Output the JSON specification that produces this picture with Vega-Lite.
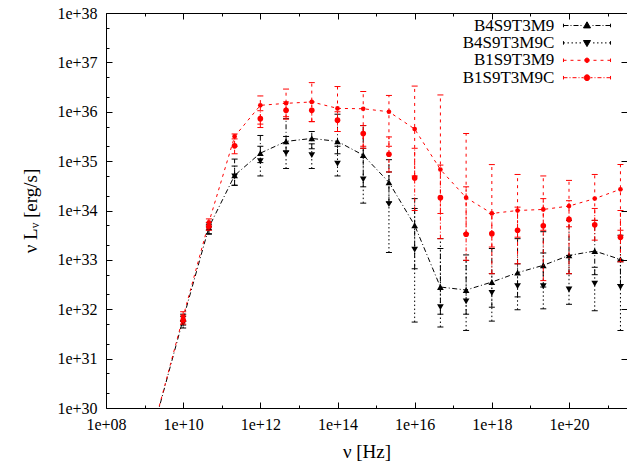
{
  "$schema": "https://vega.github.io/schema/vega-lite/v6.json",
  "width": 521,
  "height": 395,
  "autosize": "none",
  "padding": {"left": 106, "top": 13, "right": 0, "bottom": 53},
  "background": "white",
  "config": {"view": {"stroke": null}, "font": "Liberation Serif"},
  "datasets": {
    "sed": [
      {"s": "B4S9T3M9", "x": 2.154e9, "y": 7.59e29, "lo": 6.31e29, "hi": 8.91e29},
      {"s": "B4S9T3M9", "x": 1e10, "y": 6.31e31, "lo": 4.79e31, "hi": 7.94e31},
      {"s": "B4S9T3M9", "x": 4.642e10, "y": 4.57e33, "lo": 3.39e33, "hi": 5.62e33},
      {"s": "B4S9T3M9", "x": 2.154e11, "y": 5.13e34, "lo": 3.24e34, "hi": 1.10e35},
      {"s": "B4S9T3M9", "x": 1e12, "y": 1.45e35, "lo": 9.33e34, "hi": 3.31e35},
      {"s": "B4S9T3M9", "x": 4.642e12, "y": 2.51e35, "lo": 1.58e35, "hi": 7.24e35},
      {"s": "B4S9T3M9", "x": 2.154e13, "y": 2.88e35, "lo": 1.78e35, "hi": 3.98e35},
      {"s": "B4S9T3M9", "x": 1e14, "y": 2.51e35, "lo": 1.41e35, "hi": 8.91e35},
      {"s": "B4S9T3M9", "x": 4.642e14, "y": 1.32e35, "lo": 3.02e34, "hi": 5.25e35},
      {"s": "B4S9T3M9", "x": 2.154e15, "y": 3.72e34, "lo": 1.48e34, "hi": 1.07e35},
      {"s": "B4S9T3M9", "x": 1e16, "y": 5.01e33, "lo": 6.61e32, "hi": 1.74e34},
      {"s": "B4S9T3M9", "x": 4.642e16, "y": 2.82e32, "lo": 7.94e31, "hi": 1.70e33},
      {"s": "B4S9T3M9", "x": 2.154e17, "y": 2.45e32, "lo": 7.94e31, "hi": 9.77e32},
      {"s": "B4S9T3M9", "x": 1e18, "y": 3.55e32, "lo": 1.10e32, "hi": 1.70e33},
      {"s": "B4S9T3M9", "x": 4.642e18, "y": 5.50e32, "lo": 1.78e32, "hi": 2.69e33},
      {"s": "B4S9T3M9", "x": 2.154e19, "y": 7.76e32, "lo": 2.82e32, "hi": 3.72e33},
      {"s": "B4S9T3M9", "x": 1e20, "y": 1.23e33, "lo": 5.25e32, "hi": 6.31e33},
      {"s": "B4S9T3M9", "x": 4.642e20, "y": 1.51e33, "lo": 5.01e32, "hi": 6.31e33},
      {"s": "B4S9T3M9", "x": 2.154e21, "y": 1.02e33, "lo": 3.16e32, "hi": 3.16e33},

      {"s": "B4S9T3M9C", "x": 2.154e9, "y": 7.08e29, "lo": 5.62e29, "hi": 8.91e29},
      {"s": "B4S9T3M9C", "x": 1e10, "y": 5.25e31, "lo": 4.17e31, "hi": 7.08e31},
      {"s": "B4S9T3M9C", "x": 4.642e10, "y": 4.27e33, "lo": 3.31e33, "hi": 5.25e33},
      {"s": "B4S9T3M9C", "x": 2.154e11, "y": 4.90e34, "lo": 3.24e34, "hi": 7.94e34},
      {"s": "B4S9T3M9C", "x": 1e12, "y": 1.0e35, "lo": 5.01e34, "hi": 2.0e35},
      {"s": "B4S9T3M9C", "x": 4.642e12, "y": 1.45e35, "lo": 7.08e34, "hi": 3.16e35},
      {"s": "B4S9T3M9C", "x": 2.154e13, "y": 1.32e35, "lo": 7.08e34, "hi": 2.24e35},
      {"s": "B4S9T3M9C", "x": 1e14, "y": 8.91e34, "lo": 5.01e34, "hi": 2.0e35},
      {"s": "B4S9T3M9C", "x": 4.642e14, "y": 4.27e34, "lo": 1.41e34, "hi": 1.82e35},
      {"s": "B4S9T3M9C", "x": 2.154e15, "y": 1.35e34, "lo": 1.41e33, "hi": 6.03e34},
      {"s": "B4S9T3M9C", "x": 1e16, "y": 1.62e33, "lo": 5.50e31, "hi": 1.10e34},
      {"s": "B4S9T3M9C", "x": 4.642e16, "y": 1.10e32, "lo": 4.37e31, "hi": 2.69e33},
      {"s": "B4S9T3M9C", "x": 2.154e17, "y": 1.45e32, "lo": 3.72e31, "hi": 1.26e33},
      {"s": "B4S9T3M9C", "x": 1e18, "y": 2.14e32, "lo": 5.75e31, "hi": 5.25e32},
      {"s": "B4S9T3M9C", "x": 4.642e18, "y": 2.95e32, "lo": 9.77e31, "hi": 8.32e32},
      {"s": "B4S9T3M9C", "x": 2.154e19, "y": 2.95e32, "lo": 1.02e32, "hi": 1.38e33},
      {"s": "B4S9T3M9C", "x": 1e20, "y": 2.51e32, "lo": 1.26e32, "hi": 1.23e33},
      {"s": "B4S9T3M9C", "x": 4.642e20, "y": 3.31e32, "lo": 9.33e31, "hi": 7.08e32},
      {"s": "B4S9T3M9C", "x": 2.154e21, "y": 2.82e32, "lo": 3.72e31, "hi": 1.0e33},

      {"s": "B1S9T3M9", "x": 2.154e9, "y": 7.94e29, "lo": 6.31e29, "hi": 9.5e29},
      {"s": "B1S9T3M9", "x": 1e10, "y": 7.08e31, "lo": 5.62e31, "hi": 8.91e31},
      {"s": "B1S9T3M9", "x": 4.642e10, "y": 5.75e33, "lo": 4.57e33, "hi": 6.76e33},
      {"s": "B1S9T3M9", "x": 2.154e11, "y": 3.16e35, "lo": 2.0e35, "hi": 3.55e35},
      {"s": "B1S9T3M9", "x": 1e12, "y": 1.35e36, "lo": 5.62e35, "hi": 2.09e36},
      {"s": "B1S9T3M9", "x": 4.642e12, "y": 1.48e36, "lo": 7.94e35, "hi": 2.88e36},
      {"s": "B1S9T3M9", "x": 2.154e13, "y": 1.58e36, "lo": 6.31e35, "hi": 3.89e36},
      {"s": "B1S9T3M9", "x": 1e14, "y": 1.17e36, "lo": 3.98e35, "hi": 3.24e36},
      {"s": "B1S9T3M9", "x": 4.642e14, "y": 1.15e36, "lo": 2.0e35, "hi": 2.57e36},
      {"s": "B1S9T3M9", "x": 2.154e15, "y": 1.0e36, "lo": 2.0e35, "hi": 2.14e36},
      {"s": "B1S9T3M9", "x": 1e16, "y": 4.47e35, "lo": 5.01e34, "hi": 3.31e36},
      {"s": "B1S9T3M9", "x": 4.642e16, "y": 6.76e34, "lo": 8.71e33, "hi": 2.19e36},
      {"s": "B1S9T3M9", "x": 2.154e17, "y": 1.82e34, "lo": 3.39e33, "hi": 3.63e35},
      {"s": "B1S9T3M9", "x": 1e18, "y": 8.71e33, "lo": 1.82e33, "hi": 8.51e34},
      {"s": "B1S9T3M9", "x": 4.642e18, "y": 1.0e34, "lo": 2.88e33, "hi": 5.37e34},
      {"s": "B1S9T3M9", "x": 2.154e19, "y": 1.05e34, "lo": 3.98e33, "hi": 5.01e34},
      {"s": "B1S9T3M9", "x": 1e20, "y": 1.23e34, "lo": 4.68e33, "hi": 4.07e34},
      {"s": "B1S9T3M9", "x": 4.642e20, "y": 1.74e34, "lo": 6.31e33, "hi": 5.37e34},
      {"s": "B1S9T3M9", "x": 2.154e21, "y": 2.69e34, "lo": 3.98e33, "hi": 8.51e34},

      {"s": "B1S9T3M9C", "x": 2.154e9, "y": 7.59e29, "lo": 6.31e29, "hi": 8.91e29},
      {"s": "B1S9T3M9C", "x": 1e10, "y": 6.03e31, "lo": 5.01e31, "hi": 7.59e31},
      {"s": "B1S9T3M9C", "x": 4.642e10, "y": 4.79e33, "lo": 3.98e33, "hi": 5.75e33},
      {"s": "B1S9T3M9C", "x": 2.154e11, "y": 2.04e35, "lo": 1.41e35, "hi": 2.82e35},
      {"s": "B1S9T3M9C", "x": 1e12, "y": 7.24e35, "lo": 4.79e35, "hi": 1.05e36},
      {"s": "B1S9T3M9C", "x": 4.642e12, "y": 1.07e36, "lo": 7.08e35, "hi": 1.58e36},
      {"s": "B1S9T3M9C", "x": 2.154e13, "y": 1.07e36, "lo": 6.31e35, "hi": 1.58e36},
      {"s": "B1S9T3M9C", "x": 1e14, "y": 6.76e35, "lo": 3.98e35, "hi": 1.0e36},
      {"s": "B1S9T3M9C", "x": 4.642e14, "y": 3.63e35, "lo": 1.82e35, "hi": 5.25e35},
      {"s": "B1S9T3M9C", "x": 2.154e15, "y": 1.38e35, "lo": 6.03e34, "hi": 3.09e35},
      {"s": "B1S9T3M9C", "x": 1e16, "y": 4.57e34, "lo": 1.0e34, "hi": 1.82e35},
      {"s": "B1S9T3M9C", "x": 4.642e16, "y": 1.82e34, "lo": 2.69e33, "hi": 8.32e34},
      {"s": "B1S9T3M9C", "x": 2.154e17, "y": 3.31e33, "lo": 9.77e32, "hi": 3.02e34},
      {"s": "B1S9T3M9C", "x": 1e18, "y": 3.39e33, "lo": 5.25e32, "hi": 8.71e33},
      {"s": "B1S9T3M9C", "x": 4.642e18, "y": 3.98e33, "lo": 8.32e32, "hi": 1.17e34},
      {"s": "B1S9T3M9C", "x": 2.154e19, "y": 4.90e33, "lo": 3.80e32, "hi": 1.74e34},
      {"s": "B1S9T3M9C", "x": 1e20, "y": 6.61e33, "lo": 5.25e32, "hi": 1.58e34},
      {"s": "B1S9T3M9C", "x": 4.642e20, "y": 5.13e33, "lo": 2.51e33, "hi": 1.10e34},
      {"s": "B1S9T3M9C", "x": 2.154e21, "y": 2.88e33, "lo": 9.12e32, "hi": 1.0e34}
    ]
  },
  "data": {"name": "sed"},
  "encoding": {
    "x": {"field": "x", "type": "quantitative", "scale": {"type": "log", "domain": [1e8, 3.185e21], "nice": false, "zero": false}, "axis": null},
    "y": {"field": "y", "type": "quantitative", "scale": {"type": "log", "domain": [1e30, 1e38], "nice": false, "zero": false}, "axis": null}
  },
  "resolve": {"axis": {"x": "independent", "y": "independent"}},
  "layer": [
    {
      "transform": [{"filter": "false"}],
      "mark": {"type": "point", "filled": true, "opacity": 1, "size": 256, "strokeWidth": 1},
      "encoding": {
        "x": {
          "field": "x", "type": "quantitative",
          "scale": {"type": "log", "domain": [1e8, 3.185e21], "nice": false, "zero": false},
          "axis": {
            "orient": "bottom", "grid": false,
            "values": [1e8, 1e9, 1e10, 1e11, 1e12, 1e13, 1e14, 1e15, 1e16, 1e17, 1e18, 1e19, 1e20, 1e21],
            "labelExpr": "round(log(datum.value)/LN10) % 2 == 0 ? '1e+' + format(round(log(datum.value)/LN10), '02d') : ''",
            "tickSize": {"condition": {"test": "round(log(datum.value)/LN10) % 2 == 0", "value": -6}, "value": -3},
            "tickColor": "black", "tickWidth": 1,
            "domainColor": "black", "domainWidth": 1,
            "labelFont": "Liberation Serif", "labelFontSize": 16, "labelColor": "black",
            "labelPadding": 14, "labelFlush": false, "labelOverlap": false, "labelAngle": 0,
            "title": "ν [Hz]", "titleFont": "Liberation Serif", "titleFontSize": 19, "titleFontWeight": "normal", "titleColor": "black", "titlePadding": 7
          }
        },
        "y": {
          "field": "y", "type": "quantitative",
          "scale": {"type": "log", "domain": [1e30, 1e38], "nice": false, "zero": false},
          "axis": {
            "orient": "left", "grid": false,
            "values": [1e30, 2e30, 5e30, 1e31, 2e31, 5e31, 1e32, 2e32, 5e32, 1e33, 2e33, 5e33, 1e34, 2e34, 5e34, 1e35, 2e35, 5e35, 1e36, 2e36, 5e36, 1e37, 2e37, 5e37, 1e38],
            "labelExpr": "abs(log(datum.value)/LN10 - round(log(datum.value)/LN10)) < 0.01 ? '1e+' + format(round(log(datum.value)/LN10), 'd') : ''",
            "tickSize": {"condition": {"test": "abs(log(datum.value)/LN10 - round(log(datum.value)/LN10)) < 0.01", "value": -6}, "value": -3},
            "tickColor": "black", "tickWidth": 1,
            "domainColor": "black", "domainWidth": 1,
            "labelFont": "Liberation Serif", "labelFontSize": 16, "labelColor": "black",
            "labelPadding": 15, "labelFlush": false, "labelOverlap": false,
            "title": "ν Lᵥ [erg/s]", "titleFont": "Liberation Serif", "titleFontSize": 19, "titleFontWeight": "normal", "titleColor": "black", "titlePadding": 16
          }
        },
        "shape": {
          "field": "s", "type": "nominal",
          "scale": {
            "domain": ["B4S9T3M9", "B4S9T3M9C", "B1S9T3M9", "B1S9T3M9C"],
            "range": [
              "M-2.94,-0.22V0.22M2.94,-0.22V0.22M-2.94,0H-2.31M-2.06,0H-1.94M-1.69,0H-1.06M-0.81,0H-0.69M0.69,0H0.81M1.06,0H1.69M1.94,0H2.06M2.31,0H2.94M0,-0.46L0.44,0.3L-0.44,0.3Z",
              "M-2.94,-0.22V0.22M2.94,-0.22V0.22M-2.94,0H-2.75M-2.44,0H-2.25M-1.94,0H-1.75M-1.44,0H-1.25M-0.94,0H-0.75M0.75,0H0.94M1.25,0H1.44M1.75,0H1.94M2.25,0H2.44M2.75,0H2.94M0,0.46L0.44,-0.3L-0.44,-0.3Z",
              "M-2.94,-0.22V0.22M2.94,-0.22V0.22M-2.94,0H-2.56M-2.06,0H-1.69M-1.19,0H-0.81M0.81,0H1.19M1.69,0H2.06M2.56,0H2.94M-0.28,0A0.28,0.28,0,1,0,0.28,0A0.28,0.28,0,1,0,-0.28,0Z",
              "M-2.94,-0.22V0.22M2.94,-0.22V0.22M-2.94,0H-2.44M-2.19,0H-2.06M-1.81,0H-1.31M-1.06,0H-0.94M-0.69,0H-0.44M0.44,0H0.69M0.94,0H1.06M1.31,0H1.81M2.06,0H2.19M2.44,0H2.94M-0.36,0A0.36,0.36,0,1,0,0.36,0A0.36,0.36,0,1,0,-0.36,0Z"
            ]
          },
          "legend": {"orient": "none", "legendX": 472.5, "legendY": 4, "title": null, "labelAlign": "right", "labelOffset": -41.2, "labelFont": "Liberation Serif", "labelFontSize": 17, "labelColor": "black", "symbolSize": 256, "symbolStrokeWidth": 1, "rowPadding": -0.6, "padding": 0, "symbolOpacity": 1}
        },
        "color": {
          "field": "s", "type": "nominal",
          "scale": {"domain": ["B4S9T3M9", "B4S9T3M9C", "B1S9T3M9", "B1S9T3M9C"], "range": ["#000000", "#000000", "#ff0000", "#ff0000"]},
          "legend": {"orient": "none", "legendX": 472.5, "legendY": 4, "title": null, "labelAlign": "right", "labelOffset": -41.2, "labelFont": "Liberation Serif", "labelFontSize": 17, "labelColor": "black", "symbolSize": 256, "symbolStrokeWidth": 1, "rowPadding": -0.6, "padding": 0, "symbolOpacity": 1}
        },
        "stroke": {
          "field": "s", "type": "nominal",
          "scale": {"domain": ["B4S9T3M9", "B4S9T3M9C", "B1S9T3M9", "B1S9T3M9C"], "range": ["#000000", "#000000", "#ff0000", "#ff0000"]},
          "legend": {"orient": "none", "legendX": 472.5, "legendY": 4, "title": null, "labelAlign": "right", "labelOffset": -41.2, "labelFont": "Liberation Serif", "labelFontSize": 17, "labelColor": "black", "symbolSize": 256, "symbolStrokeWidth": 1, "rowPadding": -0.6, "padding": 0, "symbolOpacity": 1}
        }
      }
    },
    {
      "transform": [{"filter": "false"}],
      "mark": {"type": "point", "opacity": 0},
      "encoding": {
        "x": {
          "field": "x", "type": "quantitative",
          "scale": {"type": "log", "domain": [1e8, 3.185e21], "nice": false, "zero": false},
          "axis": {
            "orient": "top", "grid": false, "labels": false, "title": null,
            "values": [1e8, 1e9, 1e10, 1e11, 1e12, 1e13, 1e14, 1e15, 1e16, 1e17, 1e18, 1e19, 1e20, 1e21],
            "tickSize": {"condition": {"test": "round(log(datum.value)/LN10) % 2 == 0", "value": -6}, "value": -3},
            "tickColor": "black", "tickWidth": 1, "domainColor": "black", "domainWidth": 1
          }
        },
        "y": {
          "field": "y", "type": "quantitative",
          "scale": {"type": "log", "domain": [1e30, 1e38], "nice": false, "zero": false},
          "axis": {
            "orient": "right", "grid": false, "labels": false, "title": null, "domain": false,
            "values": [1e30, 1e31, 1e32, 1e33, 1e34, 1e35, 1e36, 1e37, 1e38],
            "tickSize": -6, "tickColor": "black", "tickWidth": 1
          }
        }
      }
    },
    {
      "transform": [{"filter": "datum.s === 'B4S9T3M9'"}],
      "layer": [
        {"mark": {"type": "line", "color": "#000000", "strokeWidth": 1, "strokeDash": [5, 2.5, 1, 2.5], "clip": true}},
        {"mark": {"type": "rule", "color": "#000000", "strokeWidth": 1, "strokeDash": [5, 2.5, 1, 2.5], "clip": true},
         "encoding": {"y": {"field": "lo", "type": "quantitative", "scale": {"type": "log"}, "axis": null}, "y2": {"field": "hi"}}},
        {"mark": {"type": "tick", "orient": "horizontal", "color": "#000000", "size": 6, "thickness": 1, "opacity": 1, "clip": true},
         "encoding": {"y": {"field": "lo", "type": "quantitative", "scale": {"type": "log"}, "axis": null}}},
        {"mark": {"type": "tick", "orient": "horizontal", "color": "#000000", "size": 6, "thickness": 1, "opacity": 1, "clip": true},
         "encoding": {"y": {"field": "hi", "type": "quantitative", "scale": {"type": "log"}, "axis": null}}},
        {"mark": {"type": "point", "shape": "triangle-up", "filled": true, "color": "#000000", "size": 45, "opacity": 1, "clip": true}}
      ]
    },
    {
      "transform": [{"filter": "datum.s === 'B4S9T3M9C'"}],
      "layer": [
        {"mark": {"type": "rule", "color": "#000000", "strokeWidth": 1, "strokeDash": [1.5, 2.5], "clip": true},
         "encoding": {"y": {"field": "lo", "type": "quantitative", "scale": {"type": "log"}, "axis": null}, "y2": {"field": "hi"}}},
        {"mark": {"type": "tick", "orient": "horizontal", "color": "#000000", "size": 6, "thickness": 1, "opacity": 1, "clip": true},
         "encoding": {"y": {"field": "lo", "type": "quantitative", "scale": {"type": "log"}, "axis": null}}},
        {"mark": {"type": "tick", "orient": "horizontal", "color": "#000000", "size": 6, "thickness": 1, "opacity": 1, "clip": true},
         "encoding": {"y": {"field": "hi", "type": "quantitative", "scale": {"type": "log"}, "axis": null}}},
        {"mark": {"type": "point", "shape": "triangle-down", "filled": true, "color": "#000000", "size": 45, "opacity": 1, "clip": true}}
      ]
    },
    {
      "transform": [{"filter": "datum.s === 'B1S9T3M9'"}],
      "layer": [
        {"mark": {"type": "line", "color": "#ff0000", "strokeWidth": 1, "strokeDash": [3, 4], "clip": true}},
        {"mark": {"type": "rule", "color": "#ff0000", "strokeWidth": 1, "strokeDash": [3, 4], "clip": true},
         "encoding": {"y": {"field": "lo", "type": "quantitative", "scale": {"type": "log"}, "axis": null}, "y2": {"field": "hi"}}},
        {"mark": {"type": "tick", "orient": "horizontal", "color": "#ff0000", "size": 6, "thickness": 1, "opacity": 1, "clip": true},
         "encoding": {"y": {"field": "lo", "type": "quantitative", "scale": {"type": "log"}, "axis": null}}},
        {"mark": {"type": "tick", "orient": "horizontal", "color": "#ff0000", "size": 6, "thickness": 1, "opacity": 1, "clip": true},
         "encoding": {"y": {"field": "hi", "type": "quantitative", "scale": {"type": "log"}, "axis": null}}},
        {"mark": {"type": "point", "shape": "circle", "filled": true, "color": "#ff0000", "size": 22, "opacity": 1, "clip": true}}
      ]
    },
    {
      "transform": [{"filter": "datum.s === 'B1S9T3M9C'"}],
      "layer": [
        {"mark": {"type": "rule", "color": "#ff0000", "strokeWidth": 1, "strokeDash": [4, 2, 1, 2], "clip": true},
         "encoding": {"y": {"field": "lo", "type": "quantitative", "scale": {"type": "log"}, "axis": null}, "y2": {"field": "hi"}}},
        {"mark": {"type": "tick", "orient": "horizontal", "color": "#ff0000", "size": 6, "thickness": 1, "opacity": 1, "clip": true},
         "encoding": {"y": {"field": "lo", "type": "quantitative", "scale": {"type": "log"}, "axis": null}}},
        {"mark": {"type": "tick", "orient": "horizontal", "color": "#ff0000", "size": 6, "thickness": 1, "opacity": 1, "clip": true},
         "encoding": {"y": {"field": "hi", "type": "quantitative", "scale": {"type": "log"}, "axis": null}}},
        {"mark": {"type": "point", "shape": "circle", "filled": true, "color": "#ff0000", "size": 32, "opacity": 1, "clip": true}}
      ]
    }
  ]
}
